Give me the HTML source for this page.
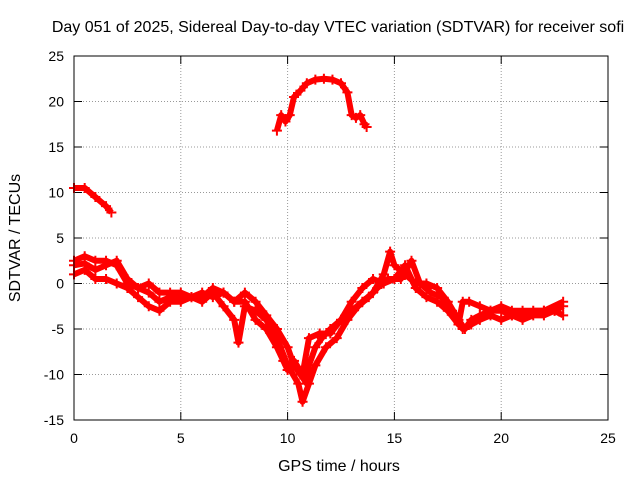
<!DOCTYPE html>
<html><head><meta charset="utf-8"><style>
body{margin:0;background:#fff}
svg{font-family:"Liberation Sans",sans-serif;font-size:14px}
.big{font-size:16px}
</style></head><body>
<svg id="chart" width="640" height="480">
<text class="big" x="338" y="32" text-anchor="middle">Day 051 of 2025, Sidereal Day-to-day VTEC variation (SDTVAR) for receiver sofi</text>
<text class="big" x="339" y="471" text-anchor="middle">GPS time / hours</text>
<text class="big" x="20" y="238" text-anchor="middle" transform="rotate(-90 20 238)">SDTVAR / TECUs</text>
<g id="grid"></g><g id="marks"></g>
<rect x="74" y="56" width="534" height="364" fill="none" stroke="#000"/>
</svg>
<script>
const xTicks=[0,5,10,15,20,25];
const yTicks=[-15,-10,-5,0,5,10,15,20,25];
const arcT=[9.5,9.7,9.9,10.1,10.3,10.6,10.9,11.3,11.7,12.1,12.5,12.8,13.0,13.2,13.4,13.6,13.7];
const arcV=[16.8,18.5,17.8,18.5,20.5,21.2,22,22.4,22.5,22.4,22,21,18.5,18.2,18.5,17.5,17.2];
const earlyT=[0,0.5,1,1.5,1.75];
const earlyV=[10.5,10.5,9.5,8.5,7.8];
const aT=[0,0.5,1,1.5,2,2.5,3,3.5,4,4.5,5,5.5,6,6.5,7,7.5,8,8.5,9,9.5,10,10.3,10.6,10.9,11,11.3,11.6,12,12.5,13,13.5,14,14.5,14.8,15,15.5,16,16.5,17,17.5,18,18.3,18.6,19,19.5,20,20.5,21,21.5,22,22.5,22.9];
const aV=[2.5,3,2.5,2.5,2,0,-0.5,-1,-2,-1.5,-1.5,-1.5,-1,-1.5,-1,-2,-1,-2,-3.5,-5,-7,-9,-10,-11,-9,-7,-6,-5,-4,-3,-2,-1,1,3.5,2,1,0,0,-0.5,-2,-4,-5,-4,-3.5,-3,-3,-3.5,-3.5,-3,-3,-3,-2.5];
const bT=[0,0.5,1,1.5,2,2.5,3,3.5,4,4.5,5,5.5,6,6.5,7,7.5,7.7,8,8.5,9,9.5,10,10.5,10.7,11,11.3,11.8,12.3,12.8,13.3,13.8,14.2,14.7,15.3,15.8,16.2,16.7,17.2,17.7,18.2,18.6,19,19.5,20,20.5,21,21.5,22,22.5,22.9];
const bV=[1,1.5,0.5,0.5,0,-0.5,-1.5,-2.5,-3,-2,-2,-1.5,-2,-1,-2.5,-4,-6.5,-2.5,-3,-4,-6,-9,-11,-13,-11,-9,-7,-6,-4,-2.5,-1.5,-0.5,0.5,0.5,2.5,0,-1,-1.5,-3,-5,-4.5,-4,-3.5,-4,-3.5,-4,-3.5,-3.5,-3,-3.5];
const cT=[0,0.5,1,1.5,2,2.5,3,3.5,4,4.5,5,5.5,6,6.5,7,7.5,8,8.5,9,9.5,9.8,10,10.3,10.7,11,11.5,12,12.5,13,13.5,14,14.5,15,15.5,16,16.5,17,17.5,18,18.2,18.5,19,19.5,20,20.5,21,22,22.9];
const cV=[2,2.2,1.5,2,2.5,0.5,-0.5,0,-1,-1,-1,-1.5,-1.5,-0.5,-1,-2,-2,-4,-5,-7,-8.5,-9.5,-8.5,-10,-6,-5.5,-5.5,-4,-2,-0.5,0.5,0,0.5,2,-0.5,-1.5,-2,-3,-4.5,-2,-2,-2.5,-3,-2.5,-3,-3,-3,-2];
const X=t=>74+t*534/25, Y=v=>420-(v+15)*364/40;
const NS="http://www.w3.org/2000/svg";
const grid=document.getElementById('grid'), marks=document.getElementById('marks');
function mk(tag,a,p){const e=document.createElementNS(NS,tag);for(const k in a)e.setAttribute(k,a[k]);p.appendChild(e);return e;}
xTicks.forEach(t=>{
 if(t>0&&t<25){const g=mk('line',{x1:X(t),x2:X(t),y1:56,y2:420,stroke:'#999','stroke-dasharray':'1,2'},grid);
 
 }
 mk('line',{x1:X(t),x2:X(t),y1:420,y2:412,stroke:'#000'},grid);
 mk('line',{x1:X(t),x2:X(t),y1:56,y2:64,stroke:'#000'},grid);
 const l=mk('text',{x:X(t),y:443,'text-anchor':'middle'},grid);l.textContent=t;
 
 
});
yTicks.forEach(v=>{
 if(v>-15&&v<25){const g=mk('line',{x1:74,x2:608,y1:Y(v),y2:Y(v),stroke:'#999','stroke-dasharray':'1,2'},grid);
 
 }
 mk('line',{x1:74,x2:82,y1:Y(v),y2:Y(v),stroke:'#000'},grid);
 mk('line',{x1:608,x2:600,y1:Y(v),y2:Y(v),stroke:'#000'},grid);
 const l=mk('text',{x:64,y:Y(v)+5,'text-anchor':'end'},grid);l.textContent=v;
 
 
});
function series(T,V,name){
 const g=mk('g',{},marks);
 
 
 mk('polyline',{points:T.map((t,i)=>X(t)+','+Y(V[i])).join(' '),fill:'none',stroke:'#f00','stroke-width':6,'stroke-linejoin':'round'},g);
 T.forEach((t,i)=>{const x=X(t),y=Y(V[i]);
  const p=mk('path',{d:`M${x-5},${y}h10M${x},${y-5}v10`,stroke:'#f00','stroke-width':2},g);
  
  
 });
}
series(arcT,arcV,'series-arc');
series(earlyT,earlyV,'series-early');
series(aT,aV,'series-track-a');
series(bT,bV,'series-track-b');
series(cT,cV,'series-track-c');
</script>
</body></html>
